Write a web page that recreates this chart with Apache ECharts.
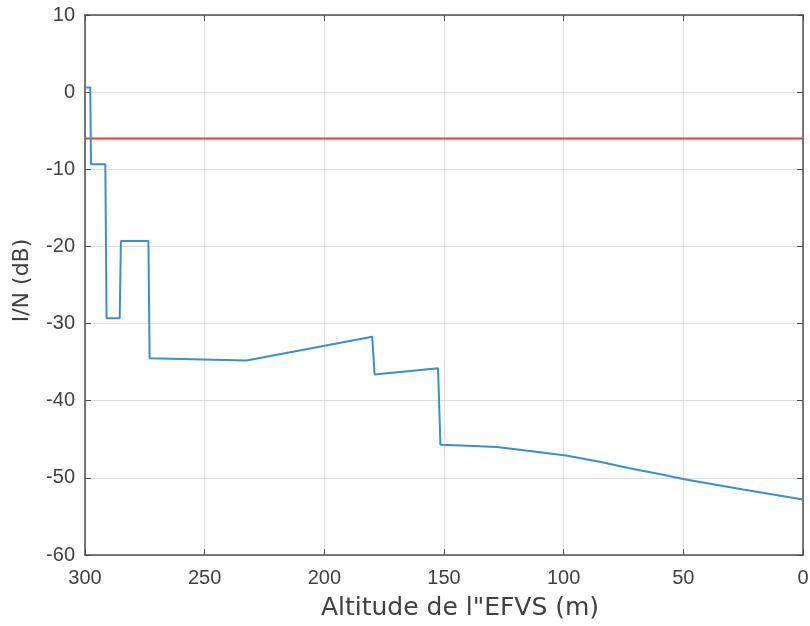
<!DOCTYPE html>
<html>
<head>
<meta charset="utf-8">
<script src="https://cdn.jsdelivr.net/npm/echarts@6/dist/echarts.min.js"></script>
<style>
  html, body { margin: 0; padding: 0; background: #fff; }
  #chart { width: 810px; height: 626px; }
</style>
</head>
<body>
<div id="chart"></div>
<script>
// Interference-to-noise ratio versus EFVS altitude
const altitude = [299.5, 297.8, 297.5, 291.5, 291.0, 285.5, 285.0, 273.5, 273.0, 232.5, 180.0, 179.0, 152.5, 151.5, 140, 128, 115, 99, 85, 72, 60, 49, 25, 0];
const inr = [0.6, 0.6, -9.35, -9.35, -29.3, -29.3, -19.3, -19.3, -34.5, -34.8, -31.7, -36.6, -35.8, -45.7, -45.85, -46.0, -46.5, -47.1, -47.9, -48.8, -49.5, -50.2, -51.5, -52.8];

// Protection threshold
const thresholdAlt = [300, 0];
const thresholdVal = [-6, -6];

const xTicks = { min: 0, max: 300, interval: 50 };
const yTicks = { min: -60, max: 10, interval: 10 };

const pairs = (xs, ys) => xs.map((x, i) => [x, ys[i]]);

const tickFont = { fontFamily: 'Liberation Sans, Arial, sans-serif', fontSize: 20, color: '#404040' };
const nameFont = { fontFamily: 'DejaVu Sans, sans-serif', fontSize: 25, color: '#404040' };
const axisLineColor = '#4d4d4d';

const mirrorAxis = {
  axisLine: { show: true, onZero: false, lineStyle: { color: axisLineColor, width: 1.5 } },
  axisTick: { show: true, inside: true, length: 6, lineStyle: { color: axisLineColor } },
  axisLabel: { show: false },
  splitLine: { show: false }
};

const chart = echarts.init(document.getElementById('chart'));
chart.setOption({
  animation: false,
  backgroundColor: '#fff',
  grid: {
    left: 85, right: 7, top: 15, bottom: 71,
    outerBoundsMode: 'none'
  },
  xAxis: [{
    type: 'value', inverse: true,
    min: xTicks.min, max: xTicks.max, interval: xTicks.interval,
    name: 'Altitude de l"EFVS (m)', nameLocation: 'middle', nameGap: 41,
    nameTextStyle: { ...nameFont, padding: [0, 0, 0, 32] },
    axisLine: { show: true, onZero: false, lineStyle: { color: axisLineColor, width: 1.5 } },
    axisTick: { show: true, inside: true, length: 6, lineStyle: { color: axisLineColor } },
    axisLabel: { ...tickFont, margin: 13 },
    splitLine: { show: true, lineStyle: { color: '#dedede', width: 1 } }
  }, {
    type: 'value', inverse: true, position: 'top',
    min: xTicks.min, max: xTicks.max, interval: xTicks.interval,
    ...mirrorAxis
  }],
  yAxis: [{
    type: 'value',
    min: yTicks.min, max: yTicks.max, interval: yTicks.interval,
    name: 'I/N (dB)', nameLocation: 'middle', nameGap: 52, nameRotate: 90,
    nameTextStyle: { ...nameFont, fontSize: 22, padding: [0, 0, 0, 9] },
    axisLine: { show: true, onZero: false, lineStyle: { color: axisLineColor, width: 1.5 } },
    axisTick: { show: true, inside: true, length: 6, lineStyle: { color: axisLineColor } },
    axisLabel: { ...tickFont, margin: 10 },
    splitLine: { show: true, lineStyle: { color: '#dedede', width: 1 } }
  }, {
    type: 'value', position: 'right',
    min: yTicks.min, max: yTicks.max, interval: yTicks.interval,
    ...mirrorAxis
  }],
  series: [{
    type: 'line', name: 'Seuil',
    data: pairs(thresholdAlt, thresholdVal),
    showSymbol: false, z: 3,
    lineStyle: { color: '#ee3b3b', width: 2 }
  }, {
    type: 'line', name: 'I/N',
    data: pairs(altitude, inr),
    showSymbol: false, smooth: false, z: 4,
    lineStyle: { color: '#3a8fd0', width: 2 }
  }]
});
</script>
</body>
</html>
